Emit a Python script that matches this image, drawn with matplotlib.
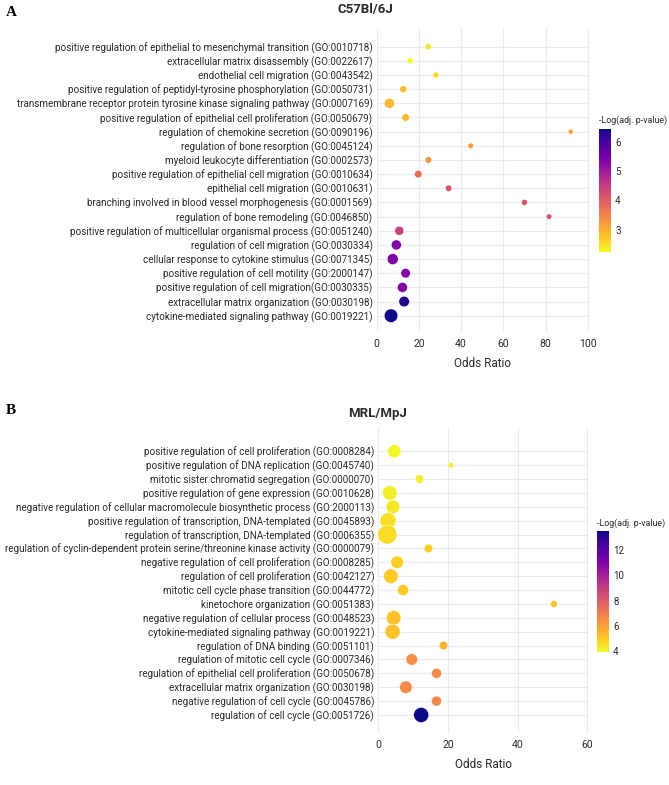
import numpy as np
import matplotlib
matplotlib.use("Agg")
import matplotlib.pyplot as plt
from matplotlib.colors import Normalize

plt.rcParams['font.family'] = ['Roboto', 'DejaVu Sans']

# ---- panel A: C57Bl/6J ----
terms_a = [
    "positive regulation of epithelial to mesenchymal transition (GO:0010718)",
    "extracellular matrix disassembly (GO:0022617)",
    "endothelial cell migration (GO:0043542)",
    "positive regulation of peptidyl-tyrosine phosphorylation (GO:0050731)",
    "transmembrane receptor protein tyrosine kinase signaling pathway (GO:0007169)",
    "positive regulation of epithelial cell proliferation (GO:0050679)",
    "regulation of chemokine secretion (GO:0090196)",
    "regulation of bone resorption (GO:0045124)",
    "myeloid leukocyte differentiation (GO:0002573)",
    "positive regulation of epithelial cell migration (GO:0010634)",
    "epithelial cell migration (GO:0010631)",
    "branching involved in blood vessel morphogenesis (GO:0001569)",
    "regulation of bone remodeling (GO:0046850)",
    "positive regulation of multicellular organismal process (GO:0051240)",
    "regulation of cell migration (GO:0030334)",
    "cellular response to cytokine stimulus (GO:0071345)",
    "positive regulation of cell motility (GO:2000147)",
    "positive regulation of cell migration(GO:0030335)",
    "extracellular matrix organization (GO:0030198)",
    "cytokine-mediated signaling pathway (GO:0019221)",
]
odds_a = [24.5, 15.8, 28.0, 12.6, 6.0, 13.7, 91.9, 44.5, 24.5, 19.7,
          34.1, 70.0, 81.7, 10.7, 9.3, 7.6, 13.7, 12.2, 13.0, 6.8]
logp_a = [2.45, 2.26, 2.5, 2.85, 2.9, 2.9, 3.15, 3.2, 3.3, 3.8,
          4.1, 4.1, 4.15, 4.4, 5.35, 5.4, 5.3, 5.35, 6.3, 6.44]
# marker diameter (px)
size_a = [6, 6, 6, 7, 10, 7.5, 5, 5.5, 6.5, 7.5,
          6.5, 6, 5.5, 9, 10, 11, 9.5, 10, 10.5, 13.5]

# ---- panel B: MRL/MpJ ----
terms_b = [
    "positive regulation of cell proliferation (GO:0008284)",
    "positive regulation of DNA replication (GO:0045740)",
    "mitotic sister chromatid segregation (GO:0000070)",
    "positive regulation of gene expression (GO:0010628)",
    "negative regulation of cellular macromolecule biosynthetic process (GO:2000113)",
    "positive regulation of transcription, DNA-templated (GO:0045893)",
    "regulation of transcription, DNA-templated (GO:0006355)",
    "regulation of cyclin-dependent protein serine/threonine kinase activity (GO:0000079)",
    "negative regulation of cell proliferation (GO:0008285)",
    "regulation of cell proliferation (GO:0042127)",
    "mitotic cell cycle phase transition (GO:0044772)",
    "kinetochore organization (GO:0051383)",
    "negative regulation of cellular process (GO:0048523)",
    "cytokine-mediated signaling pathway (GO:0019221)",
    "regulation of DNA binding (GO:0051101)",
    "regulation of mitotic cell cycle (GO:0007346)",
    "regulation of epithelial cell proliferation (GO:0050678)",
    "extracellular matrix organization (GO:0030198)",
    "negative regulation of cell cycle (GO:0045786)",
    "regulation of cell cycle (GO:0051726)",
]
odds_b = [4.6, 20.8, 11.8, 3.3, 4.2, 2.8, 2.6, 14.4, 5.4, 3.6,
          7.1, 50.4, 4.4, 4.1, 18.7, 9.6, 16.7, 7.9, 16.7, 12.3]
logp_b = [3.95, 4.1, 4.15, 4.2, 4.3, 4.5, 4.6, 4.9, 4.9, 5.0,
          5.0, 5.1, 5.2, 5.2, 5.5, 6.5, 6.6, 6.6, 6.7, 13.5]
size_b = [13, 5.5, 8.5, 14.5, 13.5, 16, 19, 8.5, 12.5, 14.5,
          11, 7, 14.5, 15, 8.5, 11.5, 10, 12.5, 10, 15]

DPI = 100
GRID = '#E5ECF6'
TXT = '#2b2b2b'

fig = plt.figure(figsize=(6.69, 7.85), dpi=DPI)
W, H = 669, 785


def px_axes(left, top, right, bottom):
    return fig.add_axes([left / W, 1 - bottom / H, (right - left) / W, (bottom - top) / H])


def panel(ax, cax, terms, odds, logp, size, xlim, ylim, xticks):
    n = len(terms)
    y = np.arange(n)
    norm = Normalize(vmin=min(logp), vmax=max(logp))
    s = [(d * 72 / DPI) ** 2 for d in size]
    sc = ax.scatter(odds, y, s=s, c=logp, cmap='plasma_r', norm=norm,
                    edgecolors='white', linewidths=0.3, zorder=3)
    ax.set_xlim(*xlim)
    ax.set_ylim(*ylim)
    ax.set_yticks(y)
    ax.set_yticklabels(terms, fontsize=7.1, color=TXT)
    ax.set_xticks(xticks)
    ax.set_xticklabels([str(t) for t in xticks], fontsize=7.5, color=TXT)
    ax.tick_params(length=0, pad=3)
    ax.tick_params(axis='x', pad=5)
    ax.grid(True, color=GRID, lw=0.8, zorder=0)
    for sp in ax.spines.values():
        sp.set_visible(False)
    ax.set_axisbelow(True)
    ax.set_xlabel("Odds Ratio", fontsize=8.5, color=TXT, labelpad=6)

    cb = fig.colorbar(sc, cax=cax)
    cb.outline.set_visible(False)
    cax.tick_params(length=0, labelsize=7, colors=TXT, pad=3)
    cax.set_title("-Log(adj. p-value)", fontsize=6.4, color=TXT, loc='left', pad=4)
    return cb


# panel A
ax_a = px_axes(376.7, 28, 589, 332)
cax_a = px_axes(599, 128.7, 611, 251.7)
panel(ax_a, cax_a, terms_a, odds_a, logp_a, size_a,
      (0, 100.6), (19 + 1.15, -1.32), [0, 20, 40, 60, 80, 100])
cax_a.set_yticks([3, 4, 5, 6])

# panel B
ax_b = px_axes(378.3, 428, 588.5, 733)
cax_b = px_axes(597, 531, 609, 652)
panel(ax_b, cax_b, terms_b, odds_b, logp_b, size_b,
      (0, 60.3), (19 + 1.3, -1.68), [0, 20, 40, 60])
cax_b.set_yticks([4, 6, 8, 10, 12])

# titles and panel letters
fig.text(365 / W, 1 - 10 / H, "C57Bl/6J", ha='center', va='center',
         fontsize=9.5, fontweight='bold', color=TXT)
fig.text(378 / W, 1 - 413 / H, "MRL/MpJ", ha='center', va='center',
         fontsize=9.5, fontweight='bold', color=TXT)
fig.text(6 / W, 1 - 12 / H, "A", ha='left', va='center', fontsize=11,
         fontweight='bold', family=['Liberation Serif', 'DejaVu Serif'])
fig.text(6 / W, 1 - 411 / H, "B", ha='left', va='center', fontsize=11,
         fontweight='bold', family=['Liberation Serif', 'DejaVu Serif'])

fig.savefig("out.png", dpi=DPI)
